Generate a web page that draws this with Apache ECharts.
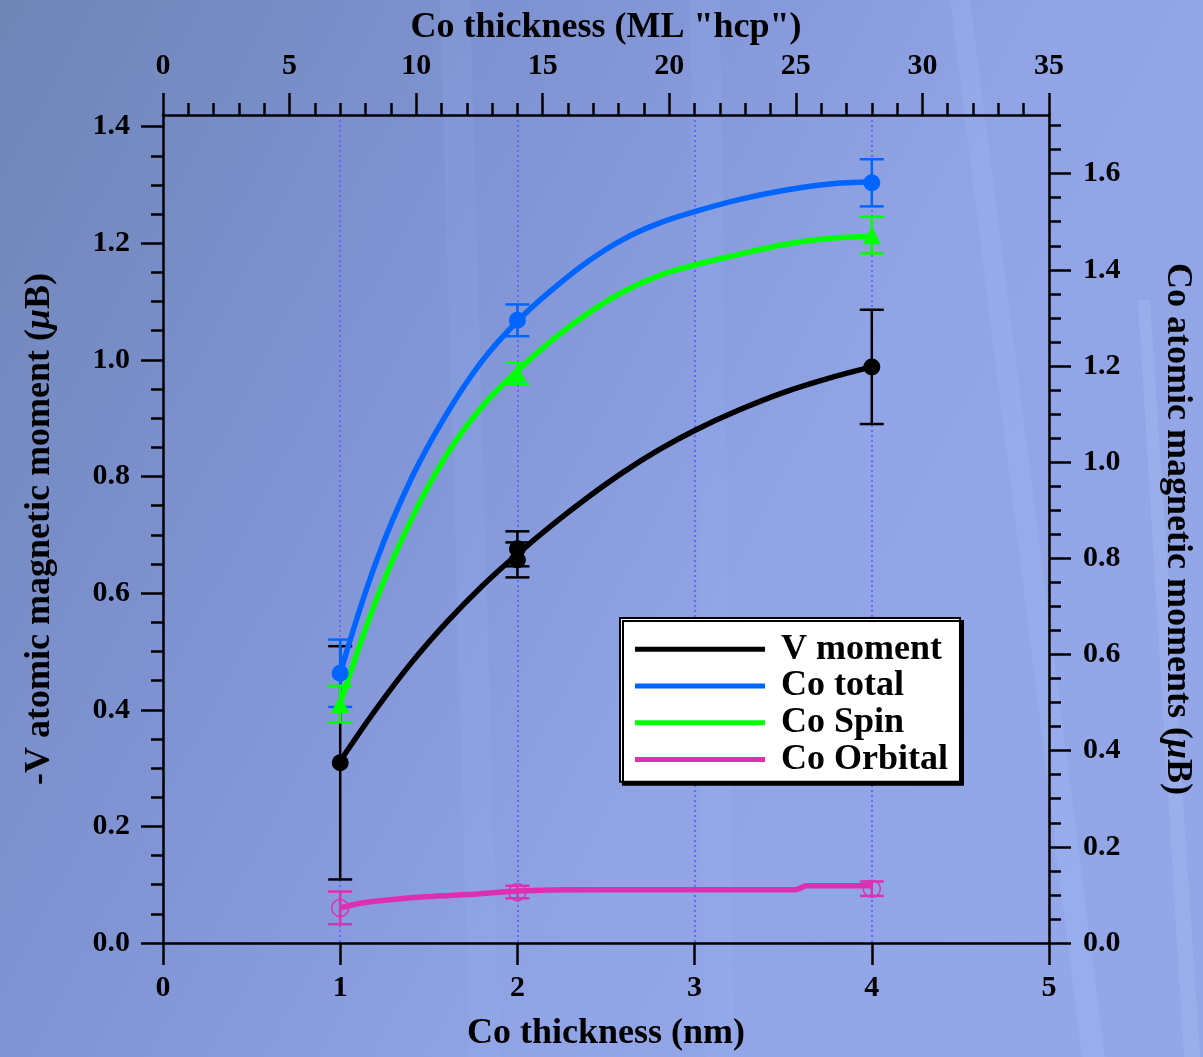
<!DOCTYPE html>
<html>
<head>
<meta charset="utf-8">
<script src="https://cdn.jsdelivr.net/npm/echarts@6/dist/echarts.min.js"></script>
<style>html,body{margin:0;padding:0;overflow:hidden;}#c{width:1203px;height:1057px;}</style>
</head>
<body>
<div id="c"></div>
<script>
// ---- data ----
const bottomTicks = [0, 1, 2, 3, 4, 5];           // Co thickness (nm)
const topTicks = [0, 5, 10, 15, 20, 25, 30, 35];  // Co thickness (ML "hcp")
const leftTicks = [0, 0.2, 0.4, 0.6, 0.8, 1.0, 1.2, 1.4];
const rightTicks = [0, 0.2, 0.4, 0.6, 0.8, 1.0, 1.2, 1.4, 1.6];

// measured points [x, value, error]
const vX = [1, 2, 2, 4];
const vY = [0.309, 0.676, 0.657, 0.988];
const vErr = [0.2, 0.03, 0.03, 0.098];

const coX = [1, 2, 4];
const coTotY = [0.561, 1.295, 1.581];
const coTotErr = [0.07, 0.033, 0.049];
const coSpinY = [0.497, 1.185, 1.472];
const coSpinErr = [0.038, 0.022, 0.038];
const coOrbY = [0.073, 0.106, 0.113];
const coOrbErr = [0.034, 0.013, 0.015];

// fitted curves
const fitX = [1.0, 1.2, 1.4, 1.6, 1.8, 2.0, 2.2, 2.4, 2.6, 2.8, 3.0, 3.25, 3.5, 3.75, 4.0];
const vFitY = [0.312, 0.400, 0.480, 0.550, 0.612, 0.667, 0.718, 0.765, 0.808, 0.846, 0.879, 0.914, 0.944, 0.968, 0.988];
const coTotFitY = [0.561, 0.790, 0.965, 1.100, 1.210, 1.293, 1.360, 1.418, 1.464, 1.497, 1.521, 1.546, 1.565, 1.578, 1.583];
const coSpinFitY = [0.497, 0.710, 0.880, 1.015, 1.115, 1.190, 1.255, 1.310, 1.355, 1.388, 1.410, 1.432, 1.452, 1.465, 1.470];
const coOrbFitX = [1.0, 1.12, 1.40, 1.776, 2.0, 2.336, 3.57, 3.63, 4.0];
const coOrbFitY = [0.073, 0.083, 0.094, 0.102, 0.108, 0.111, 0.111, 0.119, 0.119];

const seriesNames = ['V moment', 'Co total', 'Co Spin', 'Co Orbital'];
const colors = ['#000000', '#0064ff', '#00ff00', '#dd30b0'];

// ---- build ----
const FONT = '"Liberation Serif", "Times New Roman", serif';
const zip = (xs, ys) => xs.map((x, i) => [x, ys[i]]);
const zip3 = (xs, ys, es) => xs.map((x, i) => [x, ys[i], es[i]]);

function errSeries(data, color, yAxisIndex) {
  return {
    type: 'custom', xAxisIndex: 0, yAxisIndex: yAxisIndex, z: 2, silent: true,
    data: data,
    encode: { x: 0, y: [1] },
    renderItem: function (params, api) {
      const x = api.value(0), y = api.value(1), e = api.value(2);
      const t = api.coord([x, y + e]);
      const b = api.coord([x, y - e]);
      const hw = 12;
      const st = { stroke: color, lineWidth: 2.5 };
      return {
        type: 'group',
        children: [
          { type: 'line', shape: { x1: t[0], y1: t[1], x2: b[0], y2: b[1] }, style: st },
          { type: 'line', shape: { x1: t[0] - hw, y1: t[1], x2: t[0] + hw, y2: t[1] }, style: st },
          { type: 'line', shape: { x1: b[0] - hw, y1: b[1], x2: b[0] + hw, y2: b[1] }, style: st }
        ]
      };
    }
  };
}

function fitSeries(name, data, color, yAxisIndex, smooth) {
  return {
    name: name, type: 'line', xAxisIndex: 0, yAxisIndex: yAxisIndex, z: 3,
    data: data, smooth: smooth, showSymbol: false, symbol: 'none',
    lineStyle: { color: color, width: 5.5 }, itemStyle: { color: color },
    silent: true, animation: false
  };
}

function ptSeries(name, data, color, yAxisIndex, symbol, hollow) {
  return {
    name: name, type: 'scatter', xAxisIndex: 0, yAxisIndex: yAxisIndex, z: 4,
    data: data, symbol: symbol, symbolSize: symbol === 'triangle' ? 18 : 17,
    itemStyle: hollow ? { color: 'rgba(0,0,0,0)', borderColor: color, borderWidth: 1.5, opacity: 1 } : { color: color, opacity: 1 },
    silent: true
  };
}

const labelStyle = { fontFamily: FONT, fontWeight: 'bold', fontSize: 30, color: '#000' };
const nameStyle = {
  fontFamily: FONT, fontWeight: 'bold', fontSize: 36, color: '#000',
  rich: { i: { fontFamily: FONT, fontWeight: 'bold', fontStyle: 'italic', fontSize: 36, color: '#000' } }
};
const axisLineStyle = { show: true, onZero: false, lineStyle: { color: '#000', width: 2.5 } };

const chart = echarts.init(document.getElementById('c'), null, { renderer: 'canvas' });
chart.setOption({
  animation: false,
  backgroundColor: {
    type: 'linear', x: 0, y: 0, x2: 1, y2: 0.6,
    colorStops: [
      { offset: 0, color: '#6e85b6' },
      { offset: 0.35, color: '#7f93d3' },
      { offset: 0.7, color: '#90a4e6' },
      { offset: 1, color: '#93a7e8' }
    ]
  },
  graphic: [
    { type: 'polygon', z: -5, silent: true, shape: { points: [[440, 0], [470, 0], [500, 1057], [470, 1057]] }, style: { fill: 'rgba(170,195,255,0.10)' } },
    { type: 'polygon', z: -5, silent: true, shape: { points: [[690, 0], [720, 0], [735, 1057], [705, 1057]] }, style: { fill: 'rgba(170,195,255,0.10)' } },
    { type: 'polygon', z: -5, silent: true, shape: { points: [[950, 0], [970, 0], [1105, 1057], [1082, 1057]] }, style: { fill: 'rgba(180,205,255,0.16)' } },
    { type: 'polygon', z: -5, silent: true, shape: { points: [[1138, 300], [1150, 300], [1200, 1057], [1184, 1057]] }, style: { fill: 'rgba(190,210,255,0.18)' } }
  ],
  grid: { left: 163, top: 115, width: 893, height: 832, containLabel: false },
  xAxis: [
    {
      type: 'value', position: 'bottom', min: 0, max: 5, interval: 1,
      axisLine: axisLineStyle,
      axisTick: { show: true, inside: false, length: 22, lineStyle: { color: '#000', width: 2.5 } },
      axisLabel: Object.assign({ margin: 30, customValues: bottomTicks }, labelStyle),
      splitLine: { show: true, lineStyle: { type: [2, 3], color: '#6666ff', width: 2 } },
      name: 'Co thickness (nm)', nameLocation: 'middle', nameGap: 73, nameTextStyle: nameStyle
    },
    {
      type: 'value', position: 'top', min: 0, max: 35, interval: 5,
      axisLine: axisLineStyle,
      axisTick: { show: true, inside: false, length: 22, lineStyle: { color: '#000', width: 2.5 } },
      minorTick: { show: true, splitNumber: 5, length: 12, lineStyle: { color: '#000', width: 2.5 } },
      axisLabel: Object.assign({ margin: 34, customValues: topTicks }, labelStyle),
      splitLine: { show: false },
      name: 'Co thickness (ML "hcp")', nameLocation: 'middle', nameGap: 66, nameTextStyle: nameStyle
    }
  ],
  yAxis: [
    {
      type: 'value', position: 'left', min: 0, max: 1.42, interval: 0.2,
      axisLine: axisLineStyle,
      axisTick: { show: true, inside: false, length: 22, customValues: leftTicks, lineStyle: { color: '#000', width: 2.5 } },
      minorTick: { show: true, splitNumber: 4, length: 12, lineStyle: { color: '#000', width: 2.5 } },
      axisLabel: Object.assign({ margin: 33, customValues: leftTicks, formatter: v => v.toFixed(1) }, labelStyle),
      splitLine: { show: false },
      name: '-V atomic magnetic moment ({i|μ}B)', nameLocation: 'middle', nameGap: 105, nameTextStyle: nameStyle
    },
    {
      type: 'value', position: 'right', min: 0, max: 1.722, interval: 0.2,
      axisLine: axisLineStyle,
      axisTick: { show: true, inside: false, length: 22, customValues: rightTicks, lineStyle: { color: '#000', width: 2.5 } },
      minorTick: { show: true, splitNumber: 4, length: 12, lineStyle: { color: '#000', width: 2.5 } },
      axisLabel: Object.assign({ margin: 34, customValues: rightTicks, formatter: v => v.toFixed(1) }, labelStyle),
      splitLine: { show: false },
      name: 'Co atomic magnetic moments ({i|μ}B)', nameLocation: 'middle', nameGap: 110, nameRotate: -90, nameTextStyle: nameStyle
    }
  ],
  legend: {
    show: true, orient: 'vertical', left: 620, top: 618,
    data: seriesNames.map(n => ({ name: n, icon: 'rect' })),
    itemWidth: 130, itemHeight: 5, itemGap: 0,
    padding: [13, 12, 4, 15],
    backgroundColor: '#ffffff', borderColor: '#000', borderWidth: 2,
    shadowColor: '#000', shadowBlur: 0, shadowOffsetX: 3, shadowOffsetY: 3,
    selectedMode: false,
    textStyle: { fontFamily: FONT, fontWeight: 'bold', fontSize: 36, color: '#000', lineHeight: 36.7, padding: [0, 0, 0, 11] }
  },
  series: [
    errSeries(zip3(vX, vY, vErr), colors[0], 0),
    errSeries(zip3(coX, coTotY, coTotErr), colors[1], 1),
    errSeries(zip3(coX, coSpinY, coSpinErr), colors[2], 1),
    errSeries(zip3(coX, coOrbY, coOrbErr), colors[3], 1),
    fitSeries(seriesNames[0], zip(fitX, vFitY), colors[0], 0, 0.4),
    fitSeries(seriesNames[1], zip(fitX, coTotFitY), colors[1], 1, 0.4),
    fitSeries(seriesNames[2], zip(fitX, coSpinFitY), colors[2], 1, 0.4),
    fitSeries(seriesNames[3], zip(coOrbFitX, coOrbFitY), colors[3], 1, 0.2),
    ptSeries('V data', zip(vX, vY), colors[0], 0, 'circle', false),
    ptSeries('Co total data', zip(coX, coTotY), colors[1], 1, 'circle', false),
    ptSeries('Co Spin data', zip(coX, coSpinY), colors[2], 1, 'triangle', false),
    ptSeries('Co Orbital data', zip(coX, coOrbY), colors[3], 1, 'circle', true)
  ]
});
</script>
</body>
</html>
